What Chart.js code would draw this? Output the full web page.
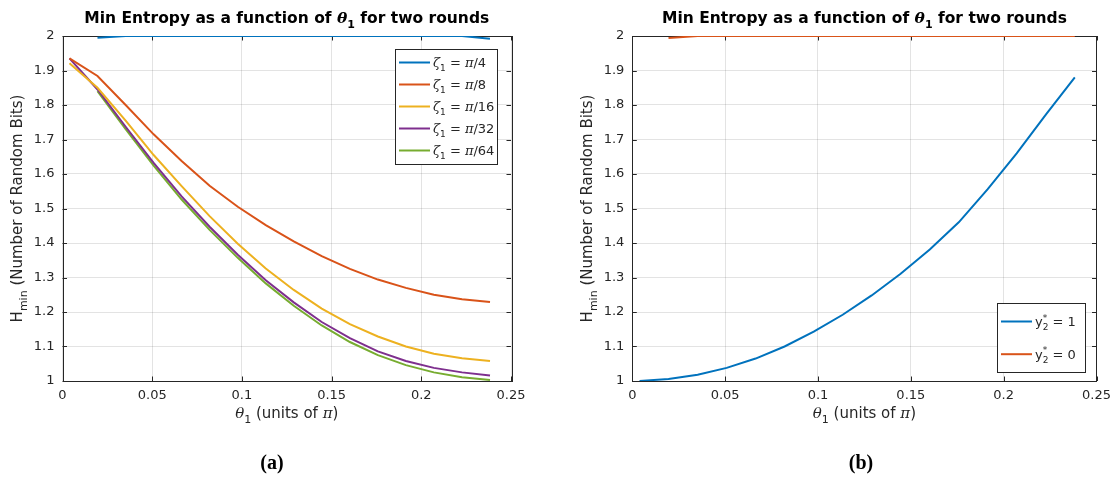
<!DOCTYPE html>
<html>
<head>
<meta charset="utf-8">
<script src="https://cdn.jsdelivr.net/npm/chart.js@4.4.1/dist/chart.umd.min.js"></script>
<style>
  html, body { margin: 0; padding: 0; background: #fff; }
  #wrap { position: relative; width: 1118px; height: 477px; }
  canvas { position: absolute; top: 0; }
</style>
</head>
<body>
<div id="wrap">
  <canvas id="chart-a" width="559" height="477" style="left:0;width:559px;height:477px"></canvas>
  <canvas id="chart-b" width="559" height="477" style="left:559px;width:559px;height:477px"></canvas>
</div>
<script>
// θ1 sample points (units of π)
const THETA = [0.0039, 0.0195, 0.0352, 0.0508, 0.0664, 0.0820, 0.0977, 0.1133,
               0.1289, 0.1445, 0.1602, 0.1758, 0.1914, 0.2070, 0.2227, 0.2383];

// (a) one curve per ζ1
const ZETA_LABELS = ['ζ_1 = π/4', 'ζ_1 = π/8', 'ζ_1 = π/16', 'ζ_1 = π/32', 'ζ_1 = π/64'];
const ZETA_PI4  = [null, 1.995, 2.000, 2.000, 2.000, 2.000, 2.000, 2.000, 2.000, 2.000, 2.000, 2.000, 2.000, 2.000, 2.000, 1.992];
const ZETA_PI8  = [1.935, 1.884, 1.800, 1.715, 1.638, 1.566, 1.505, 1.452, 1.405, 1.362, 1.325, 1.294, 1.270, 1.250, 1.237, 1.229];
const ZETA_PI16 = [1.921, 1.850, 1.755, 1.655, 1.565, 1.478, 1.398, 1.326, 1.264, 1.210, 1.165, 1.129, 1.100, 1.079, 1.066, 1.058];
const ZETA_PI32 = [1.935, 1.845, 1.737, 1.632, 1.535, 1.447, 1.366, 1.292, 1.228, 1.171, 1.124, 1.086, 1.058, 1.038, 1.025, 1.016];
const ZETA_PI64 = [null, 1.840, 1.730, 1.624, 1.526, 1.438, 1.357, 1.283, 1.218, 1.161, 1.113, 1.075, 1.046, 1.025, 1.011, 1.003];

// (b) one curve per y2*
const Y2_LABELS = ['y^*_2 = 1', 'y^*_2 = 0'];
const Y2_ONE  = [1.000, 1.006, 1.018, 1.038, 1.065, 1.100, 1.143, 1.192, 1.248, 1.311, 1.381, 1.460, 1.556, 1.660, 1.772, 1.880];
const Y2_ZERO = [null, 1.994, 2.000, 2.000, 2.000, 2.000, 2.000, 2.000, 2.000, 2.000, 2.000, 2.000, 2.000, 2.000, 2.000, 2.000];

const X_TICKS = [0, 0.05, 0.1, 0.15, 0.2, 0.25];
const Y_TICKS = [1, 1.1, 1.2, 1.3, 1.4, 1.5, 1.6, 1.7, 1.8, 1.9, 2];

const COLORS = ['#0072BD', '#D95319', '#EDB120', '#7E2F8E', '#77AC30'];
const AX = '#262626', GRID = 'rgba(38,38,38,0.13)';
const SANS = '"DejaVu Sans"', SERIF = '"DejaVu Serif"';
const GREEK = 'θζπ';

// tiny TeX-ish text: _x / _{..} subscript, ^x superscript, greek in italic serif
function parseTex(str) {
  const runs = [];
  let i = 0, buf = '';
  const flush = () => { if (buf) { runs.push({ t: buf, k: 'n' }); buf = ''; } };
  while (i < str.length) {
    const c = str[i];
    if (c === '_' || c === '^') {
      flush();
      let t;
      if (str[i + 1] === '{') { const j = str.indexOf('}', i); t = str.slice(i + 2, j); i = j + 1; }
      else { t = str[i + 1]; i += 2; }
      runs.push({ t, k: c === '_' ? 'sub' : 'sup' });
    } else if (GREEK.includes(c)) {
      flush(); runs.push({ t: c, k: 'g' }); i++;
    } else { buf += c; i++; }
  }
  flush();
  return runs;
}

function layoutTex(ctx, str, size, bold) {
  const b = bold ? 'bold ' : '';
  const small = Math.round(size * 0.72);
  const runs = parseTex(str);
  let x = 0, stackStart = null, stackW = 0;
  for (let r = 0; r < runs.length; r++) {
    const run = runs[r];
    if (run.k === 'n') run.font = `${b}${size}px ${SANS}`, run.dy = 0;
    else if (run.k === 'g') run.font = `italic ${b}${size}px ${SERIF}`, run.dy = 0;
    else if (run.k === 'sub') run.font = `${b}${small}px ${SANS}`, run.dy = size * 0.32;
    else run.font = `${b}${small}px ${SANS}`, run.dy = -size * 0.42;
    ctx.font = run.font;
    const w = ctx.measureText(run.t).width;
    // sup followed by sub share the same x (stacked)
    if (run.k === 'sub' && r > 0 && runs[r - 1].k === 'sup') {
      run.x = stackStart; x = stackStart + Math.max(stackW, w);
    } else {
      run.x = x; stackStart = x; stackW = w; x += w;
    }
  }
  return { runs, width: x };
}

function drawTex(ctx, str, x, y, { size = 12, bold = false, align = 'left', color = AX } = {}) {
  const { runs, width } = layoutTex(ctx, str, size, bold);
  const x0 = align === 'center' ? x - width / 2 : align === 'right' ? x - width : x;
  ctx.save();
  ctx.fillStyle = color;
  ctx.textBaseline = 'alphabetic';
  ctx.textAlign = 'left';
  const base = y + size * 0.36;
  runs.forEach((r) => { ctx.font = r.font; ctx.fillText(r.t, x0 + r.x, base + r.dy); });
  ctx.restore();
}

function series(values) {
  return THETA.map((t, i) => ({ x: t, y: values[i] }));
}

// box, inward ticks, titles, legend, caption
const decor = {
  id: 'decor',
  beforeDatasetsDraw(chart) {
    const { ctx, chartArea: a, scales: { x, y } } = chart;
    ctx.save();
    ctx.strokeStyle = AX;
    ctx.lineWidth = 1;
    ctx.strokeRect(Math.round(a.left) + 0.5, Math.round(a.top) + 0.5, Math.round(a.right - a.left), Math.round(a.bottom - a.top));
    ctx.beginPath();
    const tl = 4.5;
    X_TICKS.forEach((v) => {
      const px = Math.round(x.getPixelForValue(v)) + 0.5;
      ctx.moveTo(px, a.bottom); ctx.lineTo(px, a.bottom - tl);
      ctx.moveTo(px, a.top); ctx.lineTo(px, a.top + tl);
    });
    Y_TICKS.forEach((v) => {
      const py = Math.round(y.getPixelForValue(v)) + 0.5;
      ctx.moveTo(a.left, py); ctx.lineTo(a.left + tl, py);
      ctx.moveTo(a.right, py); ctx.lineTo(a.right - tl, py);
    });
    ctx.stroke();
    ctx.restore();
  },
  afterDraw(chart, args, o) {
    const { ctx, chartArea: a } = chart;
    const cx = (a.left + a.right) / 2, cy = (a.top + a.bottom) / 2;
    drawTex(ctx, 'Min Entropy as a function of θ_1 for two rounds', cx, 17, { size: 15.5, bold: true, align: 'center', color: '#000' });
    drawTex(ctx, 'θ_1 (units of π)', cx, 413, { size: 15, align: 'center' });
    ctx.save();
    ctx.translate(a.left - 46, cy);
    ctx.rotate(-Math.PI / 2);
    drawTex(ctx, 'H_{min} (Number of Random Bits)', 0, 0, { size: 15, align: 'center' });
    ctx.restore();

    // legend
    const L = o.legend;
    ctx.save();
    ctx.fillStyle = '#fff';
    ctx.fillRect(L.x, L.y, L.w, L.h);
    ctx.strokeStyle = AX;
    ctx.lineWidth = 1;
    ctx.strokeRect(L.x + 0.5, L.y + 0.5, L.w, L.h);
    chart.data.datasets.forEach((ds, i) => {
      const ry = L.y + L.first + i * L.step;
      ctx.strokeStyle = ds.borderColor;
      ctx.lineWidth = 2;
      ctx.beginPath();
      ctx.moveTo(L.x + 4, ry); ctx.lineTo(L.x + 35, ry);
      ctx.stroke();
      drawTex(ctx, ds.label, L.x + 38, ry, { size: 13 });
    });
    ctx.restore();

    ctx.save();
    ctx.fillStyle = '#000';
    ctx.font = 'bold 20px "Liberation Serif"';
    ctx.textAlign = 'center';
    ctx.textBaseline = 'middle';
    ctx.fillText(o.caption, o.captionX, 464);
    ctx.restore();
  },
};

function makeChart(id, datasets, yWidth, rightPad, legend, caption, captionX) {
  const tickFont = { family: SANS, size: 13 };
  return new Chart(document.getElementById(id), {
    type: 'line',
    data: {
      datasets: datasets.map(([label, vals], i) => ({
        label, data: series(vals), borderColor: COLORS[i], backgroundColor: COLORS[i],
        borderWidth: 2, pointRadius: 0, tension: 0, spanGaps: false,
      })),
    },
    options: {
      responsive: false, animation: false, devicePixelRatio: 1,
      layout: { padding: { top: 36, right: rightPad, bottom: 0, left: 0 } },
      plugins: { legend: { display: false }, tooltip: { enabled: false }, decor: { legend, caption, captionX } },
      scales: {
        x: {
          type: 'linear', min: 0, max: 0.25,
          afterBuildTicks: (s) => { s.ticks = X_TICKS.map((v) => ({ value: v })); },
          afterFit: (s) => { s.height = 96; },
          ticks: { padding: 7, color: AX, font: tickFont, maxRotation: 0, callback: (v) => String(+v.toFixed(2)) },
          grid: { color: GRID, drawTicks: false },
          border: { display: false },
        },
        y: {
          min: 1, max: 2,
          afterBuildTicks: (s) => { s.ticks = Y_TICKS.map((v) => ({ value: v })); },
          afterFit: (s) => { s.width = yWidth; },
          ticks: { padding: 8, color: AX, font: tickFont, callback: (v) => String(+v.toFixed(1)) },
          grid: { color: GRID, drawTicks: false },
          border: { display: false },
        },
      },
    },
    plugins: [decor],
  });
}

makeChart('chart-a',
  [[ZETA_LABELS[0], ZETA_PI4], [ZETA_LABELS[1], ZETA_PI8], [ZETA_LABELS[2], ZETA_PI16],
   [ZETA_LABELS[3], ZETA_PI32], [ZETA_LABELS[4], ZETA_PI64]],
  62.5, 48, { x: 395, y: 49, w: 102, h: 115, first: 13.5, step: 22 }, '(a)', 272);

makeChart('chart-b',
  [[Y2_LABELS[0], Y2_ONE], [Y2_LABELS[1], Y2_ZERO]],
  73.3, 17.3, { x: 997 - 559, y: 303, w: 88, h: 69, first: 18.5, step: 32.7 }, '(b)', 861 - 559);
</script>
</body>
</html>
